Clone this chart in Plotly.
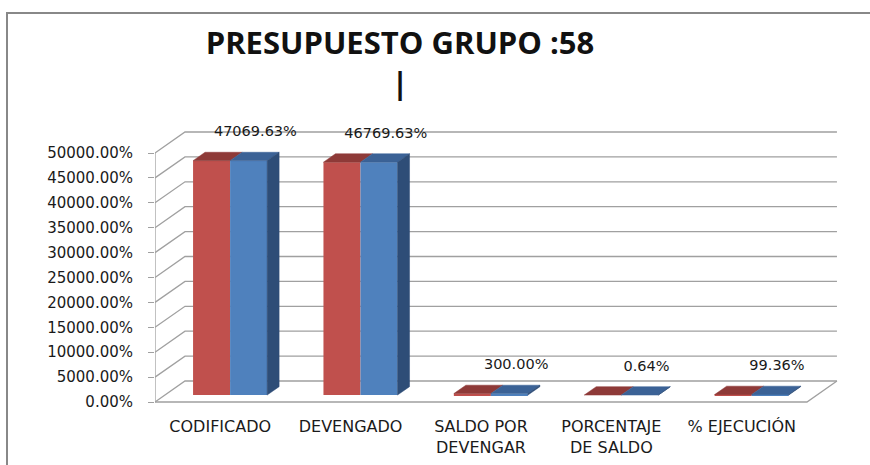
import plotly.graph_objects as go

# ---------------- data ----------------
categories = ["CODIFICADO", "DEVENGADO", "SALDO POR<br>DEVENGAR", "PORCENTAJE<br>DE SALDO", "% EJECUCIÓN"]
serie_roja = [47069.63, 46769.63, 300.00, 0.64, 99.36]
serie_azul = [47069.63, 46769.63, 300.00, 0.64, 99.36]
etiquetas = ["47069.63%", "46769.63%", "300.00%", "0.64%", "99.36%"]
y_ticks = [0, 5000, 10000, 15000, 20000, 25000, 30000, 35000, 40000, 45000, 50000]
titulo = "PRESUPUESTO GRUPO :58<br>|"

# ---------------- geometry (pseudo 3D) ----------------
DX = 0.23        # depth offset in category units
DY = 4217        # depth offset in value units
F0 = 0.33        # front face of bars at this fraction of depth
FD = 0.40        # bar depth fraction
W = 0.284        # width of one bar
XR = [-0.5, 4.784]
YR = [-1606, 55622]

RED, RED_TOP = "#C0504D", "#8E3A38"
BLUE, BLUE_TOP, BLUE_SIDE = "#4F81BD", "#3B6296", "#2E4D77"
GRID = "#a0a0a0"

n = len(categories)
idx = list(range(n))
fig = go.Figure()

# back wall gridlines (base subplot -> behind bars)
gx, gy = [], []
for v in y_ticks:
    gx += [XR[0], XR[0] + DX, (n - 0.5) + DX, None]
    gy += [v, v + DY, v + DY, None]
fig.add_trace(go.Scatter(x=gx, y=gy, mode="lines", line=dict(color=GRID, width=1.3),
                         hoverinfo="skip", showlegend=False, cliponaxis=False))
# floor front edge + right edge, front axis line
fig.add_trace(go.Scatter(x=[XR[0], n - 0.5, n - 0.5 + DX], y=[0, 0, DY], mode="lines",
                         line=dict(color=GRID, width=1.3), hoverinfo="skip",
                         showlegend=False, cliponaxis=False))
fig.add_trace(go.Scatter(x=[XR[0], XR[0]], y=[0, y_ticks[-1]], mode="lines",
                         line=dict(color=GRID, width=1.3), hoverinfo="skip",
                         showlegend=False, cliponaxis=False))

# bars on overlay subplot
sx, sy = F0 * DX, F0 * DY
ddx, ddy = FD * DX, FD * DY
fig.add_trace(go.Bar(x=[i + sx - W / 2 for i in idx], y=serie_roja, base=sy, width=W,
                     marker=dict(color=RED, line=dict(width=0)), xaxis="x2", yaxis="y2",
                     showlegend=False, hoverinfo="skip"))
fig.add_trace(go.Bar(x=[i + sx + W / 2 for i in idx], y=serie_azul, base=sy, width=W,
                     marker=dict(color=BLUE, line=dict(width=0)), xaxis="x2", yaxis="y2",
                     showlegend=False, hoverinfo="skip"))

def top_face(v, x0, x1):
    yt = sy + v
    return [x0, x1, x1 + ddx, x0 + ddx, x0, None], [yt, yt, yt + ddy, yt + ddy, yt, None]

rx, ry, bx, by, sx_, sy_ = [], [], [], [], [], []
for i in idx:
    a, b = top_face(serie_roja[i], i + sx - W, i + sx)
    rx += a; ry += b
    a, b = top_face(serie_azul[i], i + sx, i + sx + W)
    bx += a; by += b
    xr = i + sx + W
    yt = sy + serie_azul[i]
    sx_ += [xr, xr, xr + ddx, xr + ddx, xr, None]
    sy_ += [sy, yt, yt + ddy, sy + ddy, sy, None]

for xs, ys, col in [(rx, ry, RED_TOP), (bx, by, BLUE_TOP), (sx_, sy_, BLUE_SIDE)]:
    fig.add_trace(go.Scatter(x=xs, y=ys, mode="lines", fill="toself", fillcolor=col,
                             line=dict(color=col, width=0.5), xaxis="x2", yaxis="y2",
                             hoverinfo="skip", showlegend=False))

# data labels
fig.add_trace(go.Scatter(x=[i + 0.27 for i in idx], y=[v + 7000 for v in serie_azul],
                         mode="text", text=etiquetas, textposition="middle center",
                         textfont=dict(family="DejaVu Sans", size=14.5, color="#1a1a1a"),
                         xaxis="x2", yaxis="y2", hoverinfo="skip", showlegend=False,
                         cliponaxis=False))

y_ticktext = [f"{v:.2f}%" for v in y_ticks]

fig.update_layout(
    width=870, height=465,
    margin=dict(l=155, r=26, t=125, b=55, autoexpand=False),
    paper_bgcolor="white", plot_bgcolor="rgba(0,0,0,0)",
    barmode="overlay",
    title=dict(text=titulo, x=400 / 870, xanchor="center", xref="container",
               y=1 - 54 / 465, yanchor="top", yref="container", automargin=False,
               font=dict(family="Open Sans", size=31, color="#111111", weight="bold")),
    xaxis=dict(range=XR, tickvals=idx, ticktext=categories, showgrid=False, zeroline=False,
               showline=False, ticks="", automargin=False, ticklabelstandoff=5,
               tickfont=dict(family="DejaVu Sans", size=16, color="#1a1a1a")),
    yaxis=dict(range=YR, tickvals=y_ticks, ticktext=y_ticktext, showgrid=False,
               zeroline=False, showline=False, ticks="outside", ticklen=6, tickcolor=GRID,
               ticklabelstandoff=12, automargin=False,
               tickfont=dict(family="DejaVu Sans", size=15, color="#1a1a1a")),
    xaxis2=dict(range=XR, overlaying="x", visible=False),
    yaxis2=dict(range=YR, overlaying="y", visible=False),
    shapes=[dict(type="rect", xref="paper", yref="paper", x0=(7 - 155) / 689, x1=1.3,
                 y0=-1, y1=(410 - 13) / 285, line=dict(color="#888888", width=2),
                 fillcolor="rgba(0,0,0,0)", layer="below")],
)

fig.write_html("out.html", config={"displayModeBar": False},
               post_script="document.body.style.margin='0px';")
